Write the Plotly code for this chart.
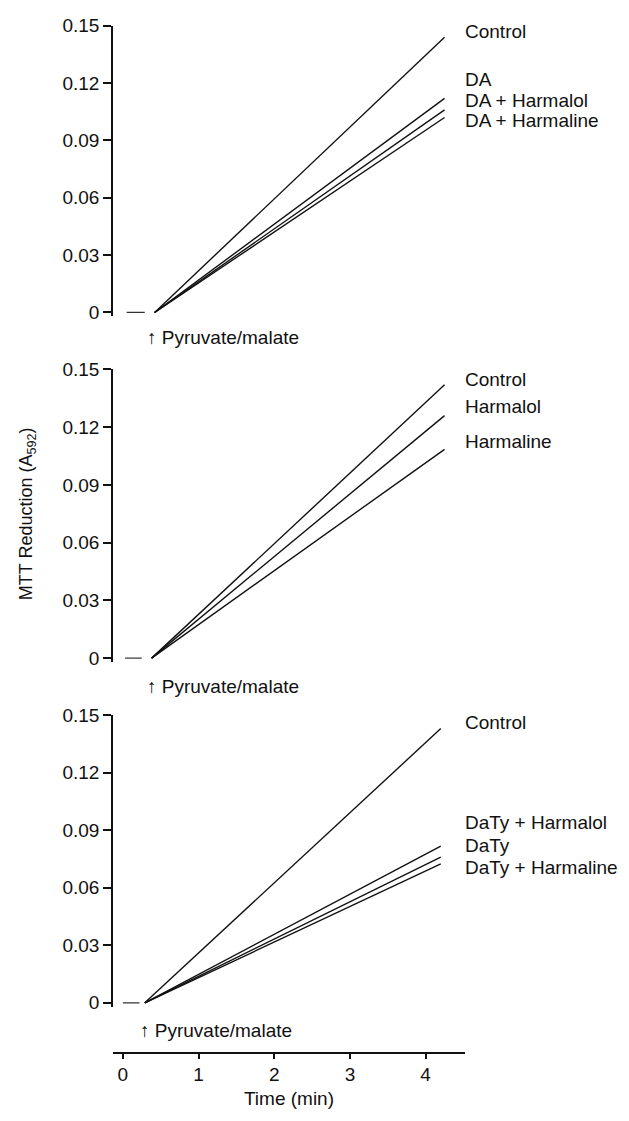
import plotly.graph_objects as go

# ---------------- data ----------------
# time (min) at which pyruvate/malate was added, and end of recording
add_time = [0.42, 0.38, 0.29]
end_time = [4.25, 4.25, 4.20]
# baseline segment before the addition (time range)
base_start = [0.05, 0.03, 0.00]
base_end = [0.29, 0.25, 0.22]

# panel 1
p1_names = ["Control", "DA", "DA + Harmalol", "DA + Harmaline"]
p1_end_values = [0.144, 0.112, 0.106, 0.102]
# panel 2
p2_names = ["Control", "Harmalol", "Harmaline"]
p2_end_values = [0.142, 0.126, 0.1085]
# panel 3
p3_names = ["Control", "DaTy + Harmalol", "DaTy", "DaTy + Harmaline"]
p3_end_values = [0.143, 0.0817, 0.076, 0.0724]

# label placement (layout only)
p1_label_y = [0.147, 0.122, 0.111, 0.1005]
p2_label_y = [0.145, 0.131, 0.1126]
p3_label_y = [0.1464, 0.094, 0.0822, 0.0704]

y_tick_vals = [0, 0.03, 0.06, 0.09, 0.12, 0.15]
y_tick_text = ["0", "0.03", "0.06", "0.09", "0.12", "0.15"]
x_tick_vals = [0, 1, 2, 3, 4]
x_tick_text = ["0", "1", "2", "3", "4"]

# ---------------- figure ----------------
FONT = "Liberation Sans, Arial, sans-serif"
INK = "#111111"
W, H = 629, 1121
FS = 19

panels = [
    (p1_names, p1_end_values, p1_label_y),
    (p2_names, p2_end_values, p2_label_y),
    (p3_names, p3_end_values, p3_label_y),
]
yaxis_ids = ["y", "y2", "y3"]
domains = [
    [1 - 311 / H, 1 - 16 / H],
    [1 - 662 / H, 1 - 365 / H],
    [1 - 1012 / H, 1 - 716 / H],
]
pm_shift = [-25, -28, -28]

fig = go.Figure()
annotations = []

for i, (names, ends, label_y) in enumerate(panels):
    yid = yaxis_ids[i]
    # baseline before addition
    fig.add_trace(go.Scatter(
        x=[base_start[i], base_end[i]], y=[0, 0], mode="lines",
        line=dict(color="#333333", width=1.2), yaxis=yid, xaxis="x",
        showlegend=False, hoverinfo="skip"))
    for name, v in zip(names, ends):
        fig.add_trace(go.Scatter(
            x=[add_time[i], end_time[i]], y=[0, v], mode="lines",
            name=name, line=dict(color=INK, width=1.4),
            yaxis=yid, xaxis="x", showlegend=False))
    for name, ly in zip(names, label_y):
        annotations.append(dict(
            x=4.5, y=ly, xref="x", yref=yid, text=name, showarrow=False,
            xanchor="left", yanchor="middle",
            font=dict(family=FONT, size=FS, color=INK)))
    annotations.append(dict(
        x=add_time[i] if i != 0 else 0.38, y=0, xref="x", yref=yid,
        text="↑ Pyruvate/malate", showarrow=False,
        xanchor="left", yanchor="middle", xshift=-7, yshift=pm_shift[i],
        font=dict(family=FONT, size=FS, color=INK)))

annotations.append(dict(
    x=27 / W, y=1 - 512 / H, xref="paper", yref="paper",
    text="MTT Reduction (A<sub>592</sub>)", textangle=-90, showarrow=False,
    xanchor="center", yanchor="middle",
    font=dict(family=FONT, size=18, color=INK)))

yaxis_common = dict(
    range=[-0.002, 0.15], anchor="x", showgrid=False, zeroline=False,
    showline=True, linecolor=INK, linewidth=1.5,
    ticks="outside", ticklen=8, tickwidth=1.5, tickcolor=INK,
    tickvals=y_tick_vals, ticktext=y_tick_text,
    tickfont=dict(family=FONT, size=FS, color=INK),
)

fig.update_layout(
    width=W, height=H,
    margin=dict(l=0, r=0, t=0, b=0),
    paper_bgcolor="white", plot_bgcolor="white",
    showlegend=False,
    xaxis=dict(
        domain=[113 / W, 465 / W], range=[-0.13, 4.52],
        anchor="free", position=1 - 1059 / H,
        showgrid=False, zeroline=False,
        showline=True, linecolor=INK, linewidth=1.5,
        ticks="outside", ticklen=5, tickwidth=1.5, tickcolor=INK,
        tickvals=x_tick_vals, ticktext=x_tick_text,
        tickfont=dict(family=FONT, size=FS, color=INK),
        title=dict(text="Time (min)", font=dict(family=FONT, size=FS, color=INK),
                   standoff=6),
    ),
    yaxis=dict(domain=domains[0], **yaxis_common),
    yaxis2=dict(domain=domains[1], **yaxis_common),
    yaxis3=dict(domain=domains[2], **yaxis_common),
    annotations=annotations,
)

fig.write_html("out.html")
